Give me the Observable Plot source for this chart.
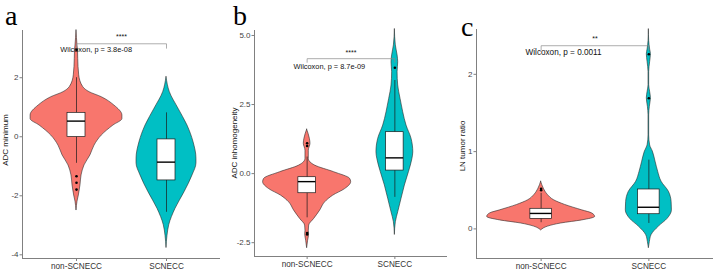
<!DOCTYPE html>
<html><head><meta charset="utf-8">
<script src="https://cdn.jsdelivr.net/npm/d3@7"></script>
<script src="https://cdn.jsdelivr.net/npm/@observablehq/plot@0.6"></script>
<style>
body{margin:0;background:#fff;}
#wrap{position:relative;width:713px;height:270px;overflow:hidden;font-family:"Liberation Sans",Arial,sans-serif;}
#wrap svg{position:absolute;top:0;overflow:visible;}
.letter{position:absolute;font-family:"Liberation Serif","Times New Roman",serif;font-size:28px;line-height:32px;color:#000;}
.ytitle{position:absolute;font-size:8px;color:#111;transform:translate(-50%,-50%) rotate(-90deg);white-space:nowrap;}
</style></head><body><div id="wrap"></div><script>
const groups = ["non-SCNECC", "SCNECC"];
const groupColors = ["#F8766D", "#00BFC4"];
const panelLetters = ["a", "b", "c"];
const yTitles = ["ADC minimum", "ADC inhomogeneity", "LN tumor ratio"];

// ---- panel a: ADC minimum ----
const aNonV = [3.6, 3.09, 2.9, 2.64, 2.08, 1.68, 1.51, 1.34, 1.06, 0.72, 0.6, 0.38, 0.04, -0.3, -0.63, -0.97, -1.31, -1.65, -1.99, -2.2, -2.5];
const aNonW = [0, 0.011, 0.017, 0.019, 0.03, 0.075, 0.145, 0.28, 0.42, 0.51, 0.51, 0.41, 0.28, 0.2, 0.155, 0.089, 0.056, 0.044, 0.026, 0.011, 0];
const aScV = [2.02, 1.51, 0.95, 0.38, -0.18, -0.75, -0.9, -1.31, -1.88, -2.44, -3.0, -3.35, -3.77];
const aScW = [0, 0.037, 0.133, 0.233, 0.3, 0.333, 0.333, 0.289, 0.2, 0.1, 0.03, 0.011, 0];
const aQ1 = [-0.01, -1.48], aMed = [0.53, -0.86], aQ3 = [0.81, -0.09], aLo = [-0.9, -2.56], aHi = [2.0, 0.81];
const aOutG = [1, 1, 1, 1], aOutV = [2.95, -1.34, -1.56, -1.79];
const aTicks = [-4, -2, 0, 2];
const aP = "Wilcoxon, p = 3.8e-08", aStars = "****";

// ---- panel b: ADC inhomogeneity ----
const bNonV = [1.59, 1.26, 1.08, 0.83, 0.53, 0.29, 0.05, -0.19, -0.31, -0.56, -0.8, -1.04, -1.34, -1.64, -1.88, -2.07, -2.2, -2.43, -2.7];
const bNonW = [0, 0.031, 0.038, 0.019, 0.019, 0.091, 0.308, 0.49, 0.502, 0.433, 0.296, 0.205, 0.148, 0.08, 0.023, 0.019, 0.022, 0.011, 0];
const bScV = [5.22, 4.64, 4.28, 4.03, 3.67, 3.19, 2.7, 2.22, 1.74, 1.26, 0.77, 0.53, 0.05, -0.43, -0.91, -1.4, -1.76, -2.22];
const bScW = [0, 0.011, 0.031, 0.038, 0.031, 0.038, 0.065, 0.095, 0.133, 0.19, 0.21, 0.2, 0.16, 0.114, 0.076, 0.038, 0.011, 0];
const bQ1 = [-0.71, 0.11], bMed = [-0.29, 0.57], bQ3 = [-0.13, 1.5], bLo = [-1.6, -0.86], bHi = [0.6, 3.37];
const bOutG = [1, 1, 1, 1, 2], bOutV = [1.0, 1.1, -2.15, -2.2, 3.83];
const bTicks = [-2.5, 0, 2.5, 5];
const bP = "Wilcoxon, p = 8.7e-09", bStars = "****";

// ---- panel c: LN tumor ratio ----
const cNonV = [0.61, 0.52, 0.44, 0.37, 0.31, 0.24, 0.2, 0.155, 0.11, 0.07, 0.03, -0.02];
const cNonW = [0, 0.025, 0.062, 0.121, 0.223, 0.381, 0.474, 0.501, 0.381, 0.186, 0.065, 0];
const cScV = [2.58, 2.43, 2.32, 2.26, 2.16, 2.03, 1.86, 1.77, 1.69, 1.58, 1.47, 1.21, 1.08, 1.0, 0.87, 0.74, 0.61, 0.48, 0.35, 0.24, 0.13, 0.03, -0.08, -0.17, -0.25];
const cScW = [0, 0.003, 0.012, 0.019, 0.012, 0.003, 0.003, 0.012, 0.019, 0.009, 0.003, 0.003, 0.012, 0.037, 0.062, 0.086, 0.118, 0.186, 0.211, 0.214, 0.174, 0.093, 0.025, 0.009, 0];
const cQ1 = [0.13, 0.19], cMed = [0.2, 0.28], cQ3 = [0.26, 0.51], cLo = [0.08, 0.07], cHi = [0.46, 0.89];
const cOutG = [1, 1, 2, 2], cOutV = [0.5, 0.52, 2.26, 1.69];
const cTicks = [0, 1, 2];
const cP = "Wilcoxon, p = 0.0011", cStars = "**";

// layout (pixels) of each panel
const panels = [
  {left: 0, width: 222, mL: 22, mR: 2, mT: 30, mB: 12, yDom: [-4.125, 3.6],
   nonV: aNonV, nonW: aNonW, scV: aScV, scW: aScW, q1: aQ1, med: aMed, q3: aQ3, lo: aLo, hi: aHi,
   outG: aOutG, outV: aOutV, ticks: aTicks, fmt: d => String(d), p: aP, stars: aStars, pSize: 7.4,
   brY: 3.15, brTick: 0.15, starY: 3.38, pX: 0.82, pY: 2.96,
   letter: [5, 0], title: [5, 140]},
  {left: 222, width: 226, mL: 32, mR: 1, mT: 30, mB: 14, yDom: [-3.0, 5.18],
   nonV: bNonV, nonW: bNonW, scV: bScV, scW: bScW, q1: bQ1, med: bMed, q3: bQ3, lo: bLo, hi: bHi,
   outG: bOutG, outV: bOutV, ticks: bTicks, fmt: d => d.toFixed(1), p: bP, stars: bStars, pSize: 7.4,
   brY: 4.16, brTick: 0.13, starY: 4.39, pX: 0.845, pY: 3.88,
   letter: [233, 0], title: [234, 143]},
  {left: 448, width: 265, mL: 28, mR: 0, mT: 29, mB: 12, yDom: [-0.383, 2.58],
   nonV: cNonV, nonW: cNonW, scV: cScV, scW: cScW, q1: cQ1, med: cMed, q3: cQ3, lo: cLo, hi: cHi,
   outG: cOutG, outV: cOutV, ticks: cTicks, fmt: d => String(d), p: cP, stars: cStars, pSize: 8.2,
   brY: 2.37, brTick: 0.056, starY: 2.454, pX: 0.855, pY: 2.29,
   letter: [461, 11], title: [462, 146]}
];

const wrap = document.getElementById("wrap");
const BOXHW = 0.1;

panels.forEach((p, pi) => {
  const violins = [[p.nonV, p.nonW], [p.scV, p.scW]];
  const marks = [];
  violins.forEach(([vs, ws], gi) => {
    const rows = vs.map((v, i) => ({y: v, x1: gi + 1 - ws[i], x2: gi + 1 + ws[i]}));
    marks.push(Plot.areaX(rows, {y: "y", x1: "x1", x2: "x2", fill: groupColors[gi], stroke: "#2a2a2a", strokeWidth: 0.6, curve: "monotone-y"}));
  });
  const boxes = groups.map((g, i) => ({x: i + 1, q1: p.q1[i], med: p.med[i], q3: p.q3[i], lo: p.lo[i], hi: p.hi[i]}));
  marks.push(Plot.ruleX(boxes, {x: "x", y1: "lo", y2: "hi", stroke: "#1a1a1a", strokeWidth: 0.7}));
  marks.push(Plot.rect(boxes, {x1: d => d.x - BOXHW, x2: d => d.x + BOXHW, y1: "q1", y2: "q3", fill: "white", stroke: "#1a1a1a", strokeWidth: 0.7}));
  marks.push(Plot.ruleY(boxes, {y: "med", x1: d => d.x - BOXHW, x2: d => d.x + BOXHW, stroke: "#000", strokeWidth: 1.4}));
  const outs = p.outV.map((v, i) => ({x: p.outG[i], y: v}));
  marks.push(Plot.dot(outs, {x: "x", y: "y", r: 1.3, fill: "#000", stroke: null}));
  // comparison bracket
  const br = [{x: 1, y: p.brY - p.brTick}, {x: 1, y: p.brY}, {x: 2, y: p.brY}, {x: 2, y: p.brY - p.brTick}];
  marks.push(Plot.line(br, {x: "x", y: "y", stroke: "#8a8a8a", strokeWidth: 0.7}));
  marks.push(Plot.text([p.stars], {x: 1.5, y: p.starY, text: d => d, fontSize: 7, fill: "#111"}));
  marks.push(Plot.text([p.p], {x: p.pX, y: p.pY, text: d => d, textAnchor: "start", fontSize: p.pSize, fill: "#111"}));
  // axes
  marks.push(Plot.ruleX([0.4], {stroke: "#808080", strokeWidth: 1}));
  marks.push(Plot.ruleY([p.yDom[0]], {stroke: "#808080", strokeWidth: 1}));
  marks.push(Plot.axisY({ticks: p.ticks, tickFormat: p.fmt, tickSize: 2.5, tickPadding: 1.5, stroke: "#808080", fill: "#444", fontSize: 8, label: null}));
  marks.push(Plot.axisX({ticks: [1, 2], tickFormat: d => groups[d - 1], tickSize: 3, tickPadding: 1.5, stroke: "#808080", fill: "#333", fontSize: 8.2, label: null}));

  const svg = Plot.plot({
    width: p.width, height: 270,
    marginLeft: p.mL, marginRight: p.mR, marginTop: p.mT, marginBottom: p.mB,
    x: {domain: [0.4, 2.6], label: null},
    y: {domain: p.yDom, label: null},
    style: {fontFamily: "'Liberation Sans', Arial, sans-serif", background: "transparent", overflow: "visible"},
    marks
  });
  svg.style.left = p.left + "px";
  wrap.appendChild(svg);

  const L = document.createElement("div");
  L.className = "letter";
  L.textContent = panelLetters[pi];
  L.style.left = p.letter[0] + "px";
  L.style.top = p.letter[1] + "px";
  wrap.appendChild(L);

  const T = document.createElement("div");
  T.className = "ytitle";
  T.textContent = yTitles[pi];
  T.style.left = p.title[0] + "px";
  T.style.top = p.title[1] + "px";
  wrap.appendChild(T);
});
</script></body></html>
